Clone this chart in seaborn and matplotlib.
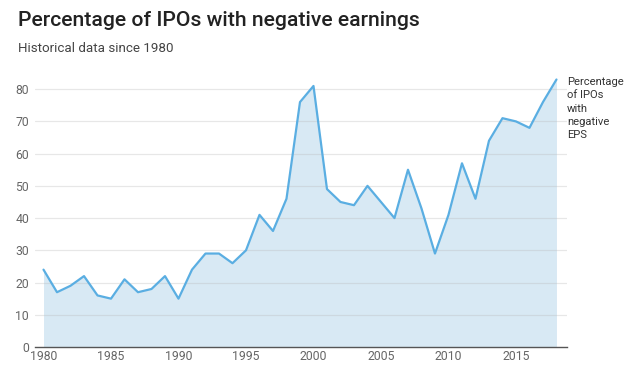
import matplotlib
matplotlib.use("Agg")
import matplotlib.pyplot as plt
import seaborn as sns
import pandas as pd

years = list(range(1980, 2019))
pct_negative = [24, 17, 19, 22, 16, 15, 21, 17, 18, 22,
                15, 24, 29, 29, 26, 30, 41, 36, 46, 76,
                81, 49, 45, 44, 50, 45, 40, 55, 43, 29,
                41, 57, 46, 64, 71, 70, 68, 76, 83]
x_ticks = [1980, 1985, 1990, 1995, 2000, 2005, 2010, 2015]
y_ticks = [0, 10, 20, 30, 40, 50, 60, 70, 80]
series_label = "Percentage\nof IPOs\nwith\nnegative\nEPS"
title = "Percentage of IPOs with negative earnings"
subtitle = "Historical data since 1980"

df = pd.DataFrame({"year": years, "pct": pct_negative})

sns.set_theme(style="white")
plt.rcParams['font.family'] = ['Roboto', 'DejaVu Sans']

fig = plt.figure(figsize=(6.4, 3.78), dpi=100)
ax = fig.add_axes([35/640, 1-347/378, 532/640, 272/378])

line_color = "#5aaee2"
fill_color = "#d8e9f4"

ax.fill_between(df["year"], df["pct"], 0, color=fill_color, lw=0, zorder=1)
for yv in y_ticks[1:]:
    ax.axhline(yv, color="#bbbbbb", alpha=0.35, lw=0.9, zorder=2)
sns.lineplot(data=df, x="year", y="pct", ax=ax, color=line_color, lw=1.6, zorder=3)

ax.set_xlim(1979.37, 2018.78)
ax.set_ylim(0, 84.4)
ax.set_xticks(x_ticks)
ax.set_yticks(y_ticks)
ax.set_xlabel("")
ax.set_ylabel("")
ax.grid(False)
for s in ["top", "right", "left"]:
    ax.spines[s].set_visible(False)
ax.spines["bottom"].set_color("#555555")
ax.spines["bottom"].set_linewidth(1.0)
ax.spines["bottom"].set_zorder(4)
ax.tick_params(axis="both", length=0, labelsize=8.8, labelcolor="#666666")
ax.tick_params(axis="x", pad=2.5)
ax.tick_params(axis="y", pad=4.3)

ax.annotate(series_label, xy=(years[-1], pct_negative[-1]), xytext=(567/640, 1-77/378),
            textcoords="figure fraction", ha="left", va="top", fontsize=8.1,
            color="#333333", linespacing=1.42, annotation_clip=False)

fig.text(18/640, 1-21/378, title, fontsize=15.2, weight="medium", color="#222222",
         ha="left", va="center")
fig.text(18/640, 1-49/378, subtitle, fontsize=9.6, color="#444444",
         ha="left", va="center")

fig.savefig("out.png", dpi=100)
